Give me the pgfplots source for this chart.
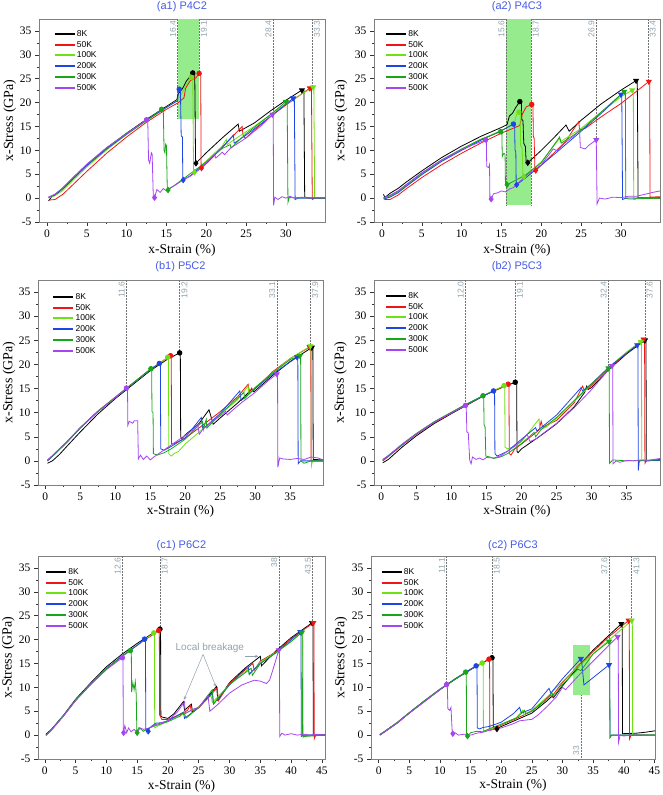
\documentclass[border=0pt]{standalone}
\usepackage{fontspec}
\setmainfont{Liberation Serif}
\newfontfamily\arial{Liberation Sans}
\usepackage{pgfplots}
\pgfplotsset{compat=1.18}
\usetikzlibrary{arrows.meta}
\definecolor{cR}{RGB}{240,20,20}
\definecolor{cLG}{RGB}{110,225,20}
\definecolor{cB}{RGB}{30,70,230}
\definecolor{cG}{RGB}{25,165,25}
\definecolor{cV}{RGB}{165,70,240}
\definecolor{cTitle}{RGB}{70,90,230}
\definecolor{cAnn}{RGB}{145,162,172}
\definecolor{cRect}{RGB}{150,236,140}
\tikzset{
  vline/.style={densely dotted, black!55, line width=0.5pt},
  vlabL/.style={rotate=90, anchor=south east, font=\arial\fontsize{8.5}{9}\selectfont, text=cAnn, inner sep=1.5pt},
  vlabR/.style={rotate=90, anchor=north east, font=\arial\fontsize{8.5}{9}\selectfont, text=cAnn, inner sep=1.5pt},
}
\pgfplotsset{
  s8/.style={color=black},
  s50/.style={color=cR},
  s100/.style={color=cLG},
  s200/.style={color=cB},
  s300/.style={color=cG},
  s500/.style={color=cV},
  panel/.style={
    scale only axis, anchor=south west,
    ymin=-5, ymax=37.5, ytick={-5,0,...,35},
    minor x tick num=1, minor y tick num=1,
    tick align=outside, xtick pos=bottom, ytick pos=left,
    major tick length=4pt, minor tick length=2pt,
    tick style={black!80, line width=0.5pt},
    axis line style={black!50, line width=0.6pt},
    ticklabel style={font=\fontsize{11.5}{12}\selectfont},
    /pgf/number format/assume math mode=true,
    xlabel={x-Strain (\%)}, ylabel={x-Stress (GPa)},
    xlabel style={font=\fontsize{13.5}{14}\selectfont, anchor=center},
    ylabel style={font=\fontsize{14}{14}\selectfont, anchor=center},
    title style={font=\arial\fontsize{11}{12}\selectfont, color=cTitle},
    legend style={draw=none, fill=none, anchor=north west,
      font=\arial\fontsize{8.5}{9}\selectfont, row sep=0pt, inner sep=0pt,
      nodes={inner sep=1.3pt, text height=6.6pt, text depth=1.6pt}},
    legend cell align=left,
    legend image code/.code={\draw[##1, line width=2pt] (0pt,0pt) -- (20pt,0pt);},
    every axis plot/.append style={line width=0.8pt},
  },
}
\newcommand{\pk}[2]{\addplot[#1,only marks,mark=*,mark size=2.3pt,forget plot] coordinates {#2};}
\newcommand{\dm}[2]{\addplot[#1,only marks,mark=diamond*,mark size=2.7pt,forget plot] coordinates {#2};}
\newcommand{\tr}[2]{\addplot[#1,only marks,mark=triangle*,mark size=2.8pt,mark options={rotate=180},forget plot] coordinates {#2};}
\newcommand{\vl}[4]{\draw[vline] (axis cs:#1,37.5) -- (axis cs:#1,#2); \node[#3] at (axis cs:#1,37.5) {#4};}
\begin{document}
\begin{tikzpicture}[x=1pt,y=1pt]
\path[use as bounding box] (0,0) rectangle (662,795);
% ---------------- a1
\begin{axis}[panel, at={(39pt,573pt)}, width=286pt, height=203pt,
  xmin=-1, xmax=34.9, xtick={0,5,...,30},
  title={(a1) P4C2}, title style={yshift=-2pt},
  xlabel style={at={(axis description cs:0.5,-0.138)}},
  ylabel style={at={(axis description cs:-0.102,0.5)}},
  legend style={at={(0.05,0.955)}}]
\fill[cRect] (axis cs:16.4,16.6) rectangle (axis cs:19.1,37.5);
\vl{16.4}{16.6}{vlabL}{16.4}
\vl{19.1}{26.1}{vlabR}{19.1}
\vl{28.4}{17.5}{vlabL}{28.4}
\vl{33.3}{23}{vlabR}{33.3}
\addplot[s8] coordinates {(0.2,-0.6)(0.6,0.3)(1,0.6)(2,2)(3,3.6)(5,6.9)(7.5,10.5)(10,13.6)(12.5,16.5)(15,19.2)(16.3,20.6)(16.5,21.9)(17,22.9)(17.5,24.5)(18.3,26.2)(18.55,26.1)(18.65,8)(18.7,7.3)(20,9.5)(22,12.6)(24,15.5)(24.15,14)(26,15.7)(28,18.2)(30,20.5)(32,22.6)(32.25,22.5)(32.35,0.2)(33,0)(34.9,0.1)};
\addplot[s50] coordinates {(0.3,-0.4)(1,-0.3)(2,0.8)(3,2.4)(5,5.6)(7.5,9.4)(10,12.8)(12.5,15.9)(15,18.6)(16.5,20)(17.2,21)(17.4,23)(18,24.6)(18.7,25.2)(19.1,26.1)(19.3,26)(19.35,6.3)(19.4,6.3)(20.5,8)(22.5,11.5)(24.5,15)(24.6,13.2)(24.9,12.5)(26,14.2)(28,17)(30,19.5)(33,23)(33.2,22.9)(33.3,-0.3)(33.6,0)(34.9,0)};
\addplot[s100] coordinates {(0.2,0)(1,0.5)(2,1.6)(3,3.3)(5,6.5)(7.5,10.1)(10,13.3)(12.5,16.2)(15,19)(16.4,20.5)(16.8,21.5)(17.5,23.8)(18.1,25.3)(18.3,25.1)(18.4,5.8)(18.5,5.4)(20,7.8)(22,10.9)(22.5,12.3)(22.6,11.2)(24,12.8)(26,15)(28,17.4)(30,19.8)(33.4,23.2)(33.5,23.1)(33.6,0.1)(34.9,0.1)};
\addplot[s200] coordinates {(0.2,0.2)(1,0.7)(2,2)(3,3.6)(5,6.8)(7.5,10.3)(10,13.4)(12.5,16.3)(15,19)(16.4,20.4)(16.5,22.8)(16.6,22.8)(16.75,22.5)(16.85,13)(17.0,12.8)(17.05,4)(17.1,3.8)(18,4.7)(20,7.4)(22,10.6)(23.4,13.2)(23.5,11.5)(25,13.2)(28,17)(30.9,20.9)(31.05,20.8)(31.15,-0.3)(31.5,0)(34.9,0)};
\addplot[s300] coordinates {(0.2,0.1)(1,0.8)(2,2.1)(3,3.8)(5,7)(7.5,10.5)(10,13.6)(12.5,16.3)(14.4,18.6)(14.6,18.5)(14.7,10)(14.8,9.5)(14.9,11.3)(15.0,11)(15.1,2)(15.2,1.7)(17,3.9)(20,7.6)(22,10.4)(23,11.2)(23.1,10.5)(25,13.5)(28,17.4)(30,20.2)(30.15,20.1)(30.25,-0.9)(30.4,0.1)(34.9,0)};
\addplot[s500] coordinates {(0.2,0.2)(1,0.8)(2,2.2)(3,3.9)(5,7.1)(7.5,10.6)(10,13.5)(12.5,16.4)(12.65,16.2)(12.75,8)(12.9,7.3)(13.1,9.5)(13.2,9.2)(13.35,0.2)(13.5,0.1)(13.8,1.8)(14.2,1.2)(14.6,2)(15,1.5)(15.5,2.2)(16,2.6)(17,3.7)(18,4.6)(19,5.8)(20,7.4)(21,9.2)(21.2,8.4)(22,9.6)(22.3,9.1)(23,10.4)(25,12.6)(27,15.3)(28.3,17.5)(28.4,17.3)(28.45,-1.5)(28.6,0.2)(29,-0.3)(29.5,0.3)(30,0)(30.5,0.4)(31,0)(32,0.2)(33,0)(34.9,0.1)};
\legend{8K,50K,100K,200K,300K,500K}
\pk{s8}{(18.3,26.2)} \pk{s50}{(19.1,26.1)} \pk{s100}{(18.1,25.3)} \pk{s200}{(16.6,22.8)} \pk{s300}{(14.4,18.6)} \pk{s500}{(12.5,16.4)}
\dm{s8}{(18.7,7.3)} \dm{s50}{(19.4,6.3)} \dm{s100}{(18.5,5.4)} \dm{s200}{(17.1,3.8)} \dm{s300}{(15.2,1.7)} \dm{s500}{(13.5,0.1)}
\tr{s8}{(32,22.6)} \tr{s50}{(33,23)} \tr{s100}{(33.4,23.2)} \tr{s200}{(30.9,20.9)} \tr{s300}{(30,20.2)} \tr{s500}{(28.3,17.5)}
\end{axis}
% ---------------- a2
\begin{axis}[panel, at={(374pt,573pt)}, width=286pt, height=203pt,
  xmin=-1, xmax=34.9, xtick={0,5,...,30},
  title={(a2) P4C3}, title style={yshift=-2pt},
  xlabel style={at={(axis description cs:0.5,-0.138)}},
  ylabel style={at={(axis description cs:-0.115,0.5)}},
  legend style={at={(0.038,0.955)}}]
\fill[cRect] (axis cs:15.6,-1.5) rectangle (axis cs:18.7,37.5);
\vl{15.6}{-1.5}{vlabL}{15.6}
\vl{18.7}{-1.5}{vlabR}{18.7}
\vl{26.9}{12.2}{vlabL}{26.9}
\vl{33.4}{24.4}{vlabR}{33.4}
\addplot[s8] coordinates {(0.2,0.8)(0.35,0.1)(1,1)(2,2)(3,3.3)(5,5.7)(7.5,8.5)(10,10.9)(12.5,13)(15,14.8)(15.7,15.4)(16,17.2)(16.4,17.8)(16.8,19)(17.3,20.2)(17.5,20)(17.55,16.5)(17.7,16.2)(17.8,11.5)(18,10.8)(18.1,7.6)(18.3,7.4)(20,10)(21.5,12.5)(23.1,15.3)(23.5,14)(25,16.3)(27.5,19.7)(30,22.6)(31.9,24.6)(32.05,24.4)(32.15,0.1)(33,0)(34.9,0)};
\addplot[s50] coordinates {(0.3,-0.3)(1,-0.3)(2,0.6)(3,1.9)(5,4.3)(7.5,7)(10,9.4)(12.5,11.6)(15,13.6)(17.3,15.2)(17.6,17.5)(18.1,19.1)(18.8,19.6)(18.95,19.3)(19.0,13)(19.1,12.5)(19.2,5.9)(19.3,5.8)(21,8.5)(23,11.8)(24.7,16)(24.8,14.3)(25.5,14.6)(27.5,17)(30,19.8)(33.5,24.4)(33.6,24.3)(33.65,0.2)(34.9,0.3)};
\addplot[s100] coordinates {(0.2,-0.1)(1,0.3)(2,1.2)(3,2.5)(5,5)(7.5,7.8)(10,10.1)(12.5,12.3)(15,14.2)(16.6,15.6)(16.9,17.5)(17.2,18)(17.35,17.8)(17.4,11)(17.6,10.5)(17.7,4.6)(17.8,4.5)(20,7.6)(22.3,12.5)(22.4,11.8)(25,14.6)(27.5,18)(30,21.2)(31.4,22.6)(31.55,22.5)(31.6,-0.3)(32,0)(34.9,0)};
\addplot[s200] coordinates {(0.2,-0.2)(1,0.2)(2,1.1)(3,2.4)(5,4.9)(7.5,7.7)(10,10)(12.5,12.2)(15,14.1)(16.5,15.5)(16.65,15.3)(16.7,10)(16.8,9.8)(16.85,3)(16.9,2.8)(18,4.2)(20,6.9)(22,9.7)(25,14)(27.5,17.7)(30,21.7)(30.1,21.6)(30.2,-0.3)(30.6,0)(34.9,0.1)};
\addplot[s300] coordinates {(0.2,0)(1,0.5)(2,1.4)(3,2.7)(5,5.2)(7.5,8)(10,10.3)(12.5,12.4)(14.9,13.9)(15.05,13.6)(15.1,8.7)(15.3,9.4)(15.45,9.2)(15.5,2.9)(15.7,2.8)(18,4.8)(20,7.4)(22.3,12.8)(22.5,11.5)(25,14.2)(27.5,18)(30.4,22.3)(30.55,22.2)(30.6,0)(31,-0.2)(34.9,0)};
\addplot[s500] coordinates {(0.2,0.1)(1,0.6)(2,1.5)(3,2.8)(5,5.3)(7.5,8)(10,10.2)(13,12.2)(13.1,12)(13.15,6.6)(13.4,6.4)(13.5,7)(13.55,-0.2)(13.7,-0.2)(14,0.9)(14.5,1.1)(15,1.5)(15.5,1.3)(16,1.9)(16.5,2.2)(17,3)(18,4.6)(20,7)(21.5,10.3)(22,9.9)(23,11.6)(24,12.9)(24.8,14.2)(24.9,10.6)(25.5,10.3)(26,11.1)(26.9,12.2)(27,-1.2)(27.3,0)(28,-0.2)(29,0.2)(30,0.1)(31,0.4)(32,0.4)(33,0.8)(34,1.2)(34.9,1.5)};
\legend{8K,50K,100K,200K,300K,500K}
\pk{s8}{(17.3,20.2)} \pk{s50}{(18.8,19.6)} \pk{s100}{(17.2,18)} \pk{s200}{(16.5,15.5)} \pk{s300}{(14.9,13.9)} \pk{s500}{(13,12.2)}
\dm{s8}{(18.3,7.4)} \dm{s50}{(19.3,5.8)} \dm{s100}{(17.8,4.5)} \dm{s200}{(16.9,2.8)} \dm{s300}{(15.7,2.8)} \dm{s500}{(13.7,-0.2)}
\tr{s8}{(31.9,24.6)} \tr{s50}{(33.5,24.4)} \tr{s100}{(31.4,22.6)} \tr{s200}{(30,21.7)} \tr{s300}{(30.4,22.3)} \tr{s500}{(26.9,12.2)}
\end{axis}
% ---------------- b1
\begin{axis}[panel, at={(38pt,310pt)}, width=285pt, height=205pt,
  xmin=-1.05, xmax=39.7, xtick={0,5,...,35},
  title={(b1) P5C2}, title style={yshift=-1pt},
  xlabel style={at={(axis description cs:0.5,-0.13)}},
  ylabel style={at={(axis description cs:-0.102,0.5)}},
  legend style={at={(0.05,0.945)}}]
\vl{11.6}{15.1}{vlabL}{11.6}
\vl{19.2}{22.4}{vlabR}{19.2}
\vl{33.1}{18}{vlabL}{33.1}
\vl{37.9}{23.6}{vlabR}{37.9}
\addplot[s8] coordinates {(0.3,-0.5)(1,0)(2,1.3)(3,2.9)(5,6)(7.5,9.7)(10,12.9)(12.5,15.8)(15,18.7)(17.5,21.1)(19.2,22.4)(19.3,22.3)(19.35,5)(19.5,4.6)(20,5.4)(22,7.8)(23.4,10.6)(24,7.6)(25,8.9)(27.5,12)(29.5,14.8)(29.8,14.3)(32.5,17.7)(35,20.6)(38.1,23.5)(38.25,23.4)(38.3,0.3)(39.7,0.2)};
\addplot[s50] coordinates {(0.3,0)(1,1)(2,2.4)(3,3.8)(5,6.9)(7.5,10.3)(10,13.2)(12.5,16.1)(15,19)(17.9,21.8)(18.0,21.7)(18.05,3.6)(18.3,3.5)(20,4.7)(22.5,7.4)(25,10.2)(27.5,13.3)(29,15.9)(29.2,14.3)(29.5,15.1)(29.7,14.6)(32.5,18.5)(35,21.2)(37.8,23.6)(37.95,23.5)(38,0)(39.7,0)};
\addplot[s100] coordinates {(0.3,0.1)(1,1)(2,2.4)(3,3.8)(5,6.8)(7.5,10.2)(10,13.1)(12.5,16)(15,18.9)(17.5,21.5)(17.6,21.4)(17.65,1.5)(18,1)(18.5,1.6)(19,1.9)(20,3.5)(22.5,6.6)(23,8.3)(23.1,7)(25,9.6)(27.5,12.7)(29,15.5)(29.1,13.8)(30,15.2)(32.5,18.3)(35,21.2)(37.9,23.8)(38.0,23.7)(38.05,-1)(38.2,0)(39.7,0)};
\addplot[s200] coordinates {(0.3,0)(1,0.9)(2,2.3)(3,3.7)(5,6.8)(7.5,10.2)(10,13.1)(12.5,16)(15,18.9)(16.3,20.2)(16.45,20)(16.5,2.5)(17,2.2)(18,3)(20,4.8)(22.3,9)(22.5,6.8)(23,7.2)(25,9.8)(27.8,14.5)(28,12.5)(30,15)(32.5,18)(36,21.5)(36.1,21.4)(36.15,-0.6)(36.5,0)(39.7,0)};
\addplot[s300] coordinates {(0.3,0.1)(1,1)(2,2.4)(3,3.8)(5,6.9)(7.5,10.3)(10,13.2)(12.5,16.1)(15.1,19.1)(15.2,19)(15.25,10.2)(15.4,10)(15.45,1.5)(16,1.2)(17,1.7)(18,2.5)(20,4.5)(22.5,8.2)(22.6,6.5)(23,8.6)(23.1,6.8)(25,9.7)(27.5,13)(28.4,14.2)(28.5,12.9)(30,15.2)(32.5,18.2)(35,21)(36.4,21.8)(36.5,21.7)(36.55,0)(37,-0.5)(38,0)(39.7,0)};
\addplot[s500] coordinates {(0.3,0.2)(1,1.1)(2,2.5)(3,3.9)(5,6.9)(7.5,10.2)(10,13.1)(11.6,15.1)(11.75,14.9)(11.8,7.4)(12,8.2)(12.5,7.8)(12.7,8.3)(13.2,8.3)(13.3,0.4)(13.6,1.2)(14,0.3)(14.5,1)(15,0.2)(15.5,0.8)(16,1.3)(17,2.3)(18,3.3)(19,4.3)(20,5.3)(21,6.3)(21.8,7.5)(22,5.5)(22.5,6.5)(23.5,7.8)(25,9.3)(25.8,10.3)(26,9.5)(27,10.8)(28,12)(30,14.2)(32,16.8)(33.1,18)(33.2,17.8)(33.25,-1.3)(33.5,0.6)(34,0.4)(35,0.3)(36,0.5)(37,0.3)(38,0.8)(39,0.6)(39.7,0.2)};
\legend{8K,50K,100K,200K,300K,500K}
\pk{s8}{(19.2,22.4)} \pk{s50}{(17.9,21.8)} \pk{s100}{(17.5,21.5)} \pk{s200}{(16.3,20.2)} \pk{s300}{(15.1,19.1)} \pk{s500}{(11.6,15.1)}
\tr{s8}{(38.1,23.5)} \tr{s50}{(37.8,23.6)} \tr{s100}{(37.9,23.8)} \tr{s200}{(36,21.5)} \tr{s300}{(36.4,21.8)} \tr{s500}{(33.1,18)}
\end{axis}
% ---------------- b2
\begin{axis}[panel, at={(374pt,310pt)}, width=286pt, height=205pt,
  xmin=-1.05, xmax=39.75, xtick={0,5,...,35},
  title={(b2) P5C3}, title style={yshift=-1pt},
  xlabel style={at={(axis description cs:0.5,-0.13)}},
  ylabel style={at={(axis description cs:-0.117,0.5)}},
  legend style={at={(0.038,0.95)}}]
\vl{12.0}{11.5}{vlabL}{12.0}
\vl{19.1}{16.3}{vlabR}{19.1}
\vl{32.4}{19.2}{vlabL}{32.4}
\vl{37.6}{25}{vlabR}{37.6}
\addplot[s8] coordinates {(0.2,-0.4)(1,0.3)(2,1.6)(3,2.9)(5,5.2)(7.5,7.7)(10,9.8)(12,11.4)(15,13.8)(17.5,15.4)(19.1,16.3)(19.3,16.2)(19.35,2)(19.5,1.7)(20,2.5)(22.5,5)(24,6.6)(25,7.7)(27.5,11.2)(29,14.2)(29.3,15.5)(29.5,14.8)(30,15.2)(32.5,19)(35,22.2)(37.6,25)(37.75,24.9)(37.8,0)(39.75,0.3)};
\addplot[s50] coordinates {(0.2,0)(1,0.9)(2,2.1)(3,3.3)(5,5.5)(7.5,7.9)(10,9.9)(12,11.5)(15,13.8)(18.1,15.9)(18.2,15.8)(18.25,1.5)(18.5,1.2)(19,2.4)(20,3.5)(22.5,6.4)(22.8,8.2)(23,7)(25,8.4)(27.5,12)(28.7,15.5)(29,14.5)(30,15.6)(32.5,19.2)(35,22.4)(37.4,25.2)(37.55,25)(37.6,-0.5)(37.8,0)(39.75,0.2)};
\addplot[s100] coordinates {(0.2,0.1)(1,1)(2,2.2)(3,3.4)(5,5.6)(7.5,8)(10,10)(12,11.6)(15,13.9)(17.5,15.6)(17.6,15.5)(17.65,2.8)(18,2.5)(19,3)(20,4)(22.5,8.7)(22.6,6.5)(23.5,7)(25,8.8)(27.5,12.3)(30,15.9)(32.5,19.5)(35,22.6)(37,24.7)(37.1,24.6)(37.15,0.1)(39.75,0.2)};
\addplot[s200] coordinates {(0.2,0.1)(1,1)(2,2.2)(3,3.4)(5,5.6)(7.5,8)(10,10)(12,11.6)(14,13.1)(16,14.5)(16.15,14.4)(16.2,1.5)(16.5,1)(17,1.3)(18,2)(20,4.5)(22,6.9)(22.2,6.2)(25,9.5)(28.5,15.2)(28.7,14.5)(30,16)(32.5,19.5)(36.5,24)(36.6,23.9)(36.65,-2)(36.8,0)(39.75,0.1)};
\addplot[s300] coordinates {(0.2,0.2)(1,1.1)(2,2.3)(3,3.5)(5,5.7)(7.5,8.1)(10,10.1)(12,11.7)(14.5,13.5)(14.6,13.4)(14.65,7.5)(14.8,7)(14.9,1)(15.5,0.8)(16,0.5)(17,0.8)(18,1.5)(20,3.6)(21.8,5.9)(22,5)(22.8,6.5)(25,9)(27.5,12.5)(30,16)(32.4,19.2)(32.5,19.1)(32.55,-0.5)(33,0.2)(35,0)(39.75,0.2)};
\addplot[s500] coordinates {(0.2,0.3)(1,1.1)(2,2.3)(3,3.5)(5,5.6)(7.5,8)(10,10)(12,11.5)(12.1,11.4)(12.2,6)(12.4,5.8)(12.6,0.2)(12.8,-0.6)(13,0.8)(13.5,0.3)(14,0.6)(14.5,0.2)(15,0.7)(16,0.6)(17,1)(18,2)(19,3)(20,4.2)(20.8,5.5)(21.2,4)(22,4.5)(23,5.6)(25,7.8)(27.5,11)(30,14.8)(32.9,19.7)(33,19.5)(33.05,-0.6)(33.5,0)(34,-0.3)(35,0.1)(36,0)(37,0.2)(38,0.1)(39.75,0.5)};
\legend{8K,50K,100K,200K,300K,500K}
\pk{s8}{(19.1,16.3)} \pk{s50}{(18.1,15.9)} \pk{s100}{(17.5,15.6)} \pk{s200}{(16,14.5)} \pk{s300}{(14.5,13.5)} \pk{s500}{(12,11.5)}
\tr{s8}{(37.6,25)} \tr{s50}{(37.4,25.2)} \tr{s100}{(37,24.7)} \tr{s200}{(36.5,24)} \tr{s300}{(32.4,19.2)} \tr{s500}{(32.9,19.7)}
\end{axis}
% ---------------- c1
\begin{axis}[panel, at={(38pt,36pt)}, width=287pt, height=203pt,
  xmin=-1.1, xmax=45.5, xtick={0,5,...,45},
  title={(c1) P6C2}, title style={yshift=-4pt},
  xlabel style={at={(axis description cs:0.5,-0.135)}},
  ylabel style={at={(axis description cs:-0.104,0.5)}},
  legend style={at={(0.024,0.95)}}]
\vl{12.6}{16.2}{vlabL}{12.6}
\vl{18.7}{22.2}{vlabR}{18.7}
\vl{38}{17.8}{vlabL}{38}
\vl{43.5}{23.5}{vlabL}{43.5}
\addplot[s8] coordinates {(0.2,0.2)(1,1.1)(2,2.6)(3,4.1)(5,7.5)(7.5,11)(10,14.3)(12.5,16.9)(15,19.2)(17.5,21.3)(18.7,22.2)(18.8,22.1)(18.85,4)(19,3.8)(20,3.5)(21,4.5)(22.5,7)(22.7,5.2)(23.8,6.5)(24,4.8)(25,5.8)(27.9,10.2)(28.1,7.3)(30,11)(32.5,14)(35,16.5)(35.2,14.5)(37.5,17.6)(40,20.4)(43.4,23.5)(43.55,23.4)(43.6,0)(45.5,0.1)};
\addplot[s50] coordinates {(0.2,0)(1,1)(2,2.5)(3,4)(5,7.3)(7.5,10.8)(10,13.9)(12.5,16.5)(15,18.8)(17.5,21)(18.5,21.9)(18.6,21.8)(18.65,4.2)(19,3.3)(20,3.3)(22,4.3)(23.2,5.2)(23.6,6.3)(23.8,5)(25,5.7)(28,9.9)(28.2,7.2)(30,10.9)(33.8,15)(34,13.6)(35,15.5)(37.5,17.4)(40,20.2)(43.6,23.5)(43.7,23.4)(43.75,-0.8)(44,0)(45.5,0)};
\addplot[s100] coordinates {(0.2,0)(1,1)(2,2.5)(3,4)(5,7.3)(7.5,10.8)(10,13.9)(12.5,16.5)(15,18.8)(17.7,21.4)(17.8,21.3)(17.85,1.5)(18.5,2)(19,2.3)(20,3.1)(22.5,4.4)(25,5.9)(27,8.3)(27.2,6.8)(30,10.6)(33,13.8)(33.2,12.6)(35,15.3)(37.5,17.3)(40,19.6)(41.8,21.5)(41.9,21.4)(41.95,-0.5)(42.3,0)(45.5,0)};
\addplot[s200] coordinates {(0.2,0)(1,1)(2,2.5)(3,4)(5,7.3)(7.5,10.8)(10,13.9)(12.5,16.5)(15,18.8)(16.2,20.1)(16.35,20)(16.4,1)(16.8,0.8)(17,1.5)(18,2.5)(19,2.6)(20,3)(22.5,4.8)(22.7,3.5)(25,5.8)(27.2,8.8)(27.4,6.5)(30,10.5)(33,14.5)(33.2,12.8)(35,15)(37.5,17.2)(41.5,21.6)(41.6,21.5)(41.65,-0.3)(42,0)(45.5,0)};
\addplot[s300] coordinates {(0.2,0)(1,1)(2,2.5)(3,4)(5,7.3)(7.5,10.8)(10,13.9)(12.5,16.4)(13.9,17.7)(14.05,17.6)(14.1,9)(14.3,11)(14.5,9.5)(14.7,11.2)(14.85,8.5)(14.95,0.5)(15.3,1.6)(16,0.8)(17,1.5)(18,2)(20,2.8)(22,4)(22.5,4.8)(23,3.6)(25,5.8)(27.2,9.5)(27.4,6.6)(30,10.6)(33.5,14)(33.7,12.5)(35,15)(37.5,17.2)(40,19.6)(41.7,21.5)(41.8,21.4)(41.85,0)(42,-0.3)(45.5,0)};
\addplot[s500] coordinates {(0.2,-0.1)(1,0.9)(2,2.4)(3,3.9)(5,7.2)(7.5,10.6)(10,13.7)(12.6,16.2)(12.7,16)(12.75,0.3)(13,2)(13.3,0.5)(13.6,1.5)(14,0.7)(14.5,1.2)(15,0.6)(15.5,1.5)(16,1.2)(17,1.5)(18,2.2)(19,2.6)(20,3)(21.5,4.8)(22.7,7)(22.8,4.5)(24,5.4)(25,5.8)(26.5,8.3)(26.8,5)(28,6.3)(30,8.8)(32,10.5)(33,11)(34,11.5)(35,11.3)(36,10.8)(36.5,11.5)(37,13.5)(38,17.8)(38.1,17.6)(38.15,-0.3)(38.5,0.4)(39,0)(40,0.3)(41,0)(42,0.2)(43,0)(44,0.2)(45.5,0)};
\legend{8K,50K,100K,200K,300K,500K}
\pk{s8}{(18.7,22.2)} \pk{s50}{(18.5,21.9)} \pk{s100}{(17.7,21.4)} \pk{s200}{(16.2,20.1)} \pk{s300}{(13.9,17.7)} \pk{s500}{(12.6,16.2)}
\dm{s200}{(16.8,0.8)} \dm{s300}{(15,0.5)} \dm{s500}{(12.8,0.5)}
\tr{s8}{(43.4,23.5)} \tr{s50}{(43.6,23.5)} \tr{s100}{(41.8,21.5)} \tr{s200}{(41.5,21.6)} \tr{s300}{(41.7,21.5)} \tr{s500}{(38,17.8)}
\node[font=\arial\fontsize{10}{11}\selectfont, text=cAnn] at (axis cs:26.8,18.3) {Local breakage};
\draw[cAnn, line width=0.5pt, -{Stealth[length=3.5pt,width=3pt]}] (axis cs:25.7,16.9) -- (axis cs:22.6,7.4);
\draw[cAnn, line width=0.5pt, -{Stealth[length=3.5pt,width=3pt]}] (axis cs:25.7,16.9) -- (axis cs:27.8,10.1);
\draw[cAnn, line width=0.5pt, -{Stealth[length=3.5pt,width=3pt]}] (axis cs:32.5,16.5) -- (axis cs:34.7,16.5);
\end{axis}
% ---------------- c2
\begin{axis}[panel, at={(371pt,36pt)}, width=284pt, height=203pt,
  xmin=-1.25, xmax=45.1, xtick={0,5,...,45},
  title={(c2) P6C3}, title style={yshift=-4pt},
  xlabel style={at={(axis description cs:0.5,-0.128)}},
  ylabel style={at={(axis description cs:-0.106,0.5)}},
  legend style={at={(0.033,0.95)}}]
\fill[cRect] (axis cs:31.7,8.5) rectangle (axis cs:34.5,18.8);
\vl{11.1}{10.6}{vlabL}{11.1}
\vl{18.5}{16.2}{vlabR}{18.5}
\vl{37.6}{19.6}{vlabL}{37.6}
\vl{41.3}{24}{vlabR}{41.3}
\draw[vline] (axis cs:33,-5) -- (axis cs:33,8.5);
\node[rotate=90, anchor=south west, font=\arial\fontsize{8.5}{9}\selectfont, text=cAnn, inner sep=1.5pt] at (axis cs:33,-4.6) {33};
\addplot[s8] coordinates {(0.2,0)(1,0.7)(2,1.6)(3,2.5)(5,4.6)(7.5,7.1)(10,9.5)(12.5,11.7)(15,13.7)(17.5,15.5)(18.5,16.2)(18.65,16.1)(18.7,1.8)(19,1.5)(19.3,1.3)(20,1.8)(22.5,3.2)(25,4.6)(27.5,7.2)(28.3,8.2)(28.5,7.8)(30,10.3)(32.5,14.2)(35,17.8)(37.5,20.8)(39.6,23.3)(39.75,23.2)(39.8,0.3)(42,0.4)(43.5,0.6)(45.1,0.9)};
\addplot[s50] coordinates {(0.2,0.1)(1,0.8)(2,1.7)(3,2.6)(5,4.7)(7.5,7.2)(10,9.6)(12.5,11.8)(15,13.8)(18,15.9)(18.1,15.8)(18.15,1)(18.5,1.2)(19,1.5)(20,2.1)(22.5,3.5)(25,5)(27.5,7.8)(28,8.5)(28.2,8)(30,11)(32.5,14.5)(35,17.5)(37.5,20.5)(40.8,24)(40.9,23.9)(40.95,-0.8)(41.2,0)(45.1,0)};
\addplot[s100] coordinates {(0.2,0.1)(1,0.8)(2,1.7)(3,2.6)(5,4.7)(7.5,7.2)(10,9.6)(12.5,11.8)(15,13.8)(16.9,15.1)(17.05,15)(17.1,1)(17.5,0.8)(18,1.2)(20,2.2)(22.5,3.7)(23.5,5.2)(23.7,4.3)(25,5.2)(27.5,8)(30,11.2)(32.5,14.3)(35,17)(37.5,19.8)(41.3,24)(41.4,23.9)(41.45,0)(45.1,0)};
\addplot[s200] coordinates {(0.2,0.1)(1,0.8)(2,1.7)(3,2.6)(5,4.7)(7.5,7.2)(10,9.6)(12.5,11.8)(15.9,14.5)(16.05,14.4)(16.1,1.5)(16.5,1.3)(17,1.6)(18,1.8)(20,2.7)(22,4.5)(23,5.8)(23.3,4.6)(25,5.5)(27.8,9.8)(28.1,8.8)(30,11.8)(33,16)(33.1,15.9)(33.5,10.5)(37.6,14.7)(37.7,14.6)(37.75,-0.5)(38,0)(45.1,0)};
\addplot[s300] coordinates {(0.2,0.1)(1,0.8)(2,1.7)(3,2.6)(5,4.7)(7.5,7.2)(10,9.6)(12.5,11.7)(14.2,13.2)(14.3,13.1)(14.35,0.3)(14.5,-0.2)(15,0.5)(16,0.8)(17,0.7)(18,1.3)(20,2.3)(22.5,3.6)(23.8,5.2)(24,4.5)(25,5)(27.5,7.5)(28.3,8.8)(28.5,8)(30,10.6)(32.5,13.8)(33,13.5)(35,17)(37.6,19.6)(37.7,19.5)(37.75,-0.5)(38,0)(45.1,0)};
\addplot[s500] coordinates {(0.2,0)(1,0.7)(2,1.6)(3,2.5)(5,4.6)(7.5,7)(10,9.5)(11.1,10.6)(11.2,10.5)(11.3,5.5)(11.6,5.2)(11.8,5.8)(12,0.8)(12.1,0.3)(12.5,0.5)(13,0)(14,0.2)(15,0)(16,0.4)(17,0.6)(18,1)(20,1.5)(22,2.4)(23,3)(25,3.3)(26,4.2)(27.5,6)(29,8)(30,10)(30.5,9.5)(32.5,12.3)(35,15.5)(37.5,18.7)(39,20.6)(39.1,20.5)(39.15,-1.5)(39.4,0)(40,-0.2)(41,0)(45.1,-0.1)};
\legend{8K,50K,100K,200K,300K,500K}
\pk{s8}{(18.5,16.2)} \pk{s50}{(18,15.9)} \pk{s100}{(16.9,15.1)} \pk{s200}{(15.9,14.5)} \pk{s300}{(14.2,13.2)} \pk{s500}{(11.1,10.6)}
\dm{s8}{(19.3,1.3)} \dm{s300}{(14.5,-0.2)} \dm{s500}{(12.1,0.3)}
\tr{s8}{(39.6,23.3)} \tr{s50}{(40.8,24)} \tr{s100}{(41.3,24)} \tr{s200}{(33,16)(37.6,14.7)} \tr{s300}{(37.6,19.6)} \tr{s500}{(39,20.6)}
\end{axis}
\end{tikzpicture}
\end{document}
